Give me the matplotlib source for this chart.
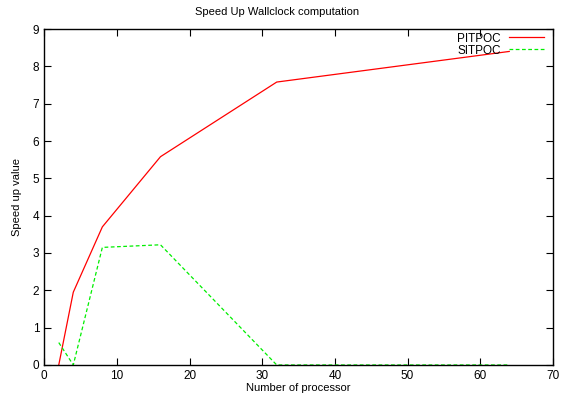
import matplotlib
matplotlib.use("Agg")
import matplotlib.pyplot as plt

# processor counts and measured speed up
procs = [2, 4, 8, 16, 32, 64]
pitpoc = [0.0, 1.95, 3.7, 5.58, 7.58, 8.4]
sitpoc = [0.6, 0.0, 3.15, 3.22, 0.0, 0.0]

plt.rcParams['font.family'] = ['Liberation Sans', 'DejaVu Sans']
plt.rcParams['font.size'] = 8

fig = plt.figure(figsize=(5.67, 3.98), dpi=100)
ax = fig.add_axes([0.078, 0.083, 0.897, 0.844])

ax.plot(procs, pitpoc, color='#ff0000', lw=0.9, label='PITPOC')
ax.plot(procs, sitpoc, color='#00ee00', lw=0.9, ls=(0, (3, 2)), label='SITPOC')

ax.set_xlim(0, 70)
ax.set_ylim(0, 9)
ax.set_xticks(range(0, 71, 10))
ax.set_yticks(range(0, 10))
ax.tick_params(direction='in', top=True, right=True, length=5, width=0.8,
               labelsize=8.5)
for s in ax.spines.values():
    s.set_linewidth(1.0)

fig.text(0.489, 0.97, 'Speed Up Wallclock computation', ha='center', va='center',
         fontsize=8)
ax.set_xlabel('Number of processor', labelpad=1)
ax.set_ylabel('Speed up value', labelpad=8)

ax.legend(loc='upper right', bbox_to_anchor=(0.99, 1.0), frameon=False,
          markerfirst=False, handlelength=3, handletextpad=0.7,
          borderaxespad=0.0, borderpad=0.3, labelspacing=0.0, fontsize=8.5)

fig.savefig('out.png', dpi=100)
